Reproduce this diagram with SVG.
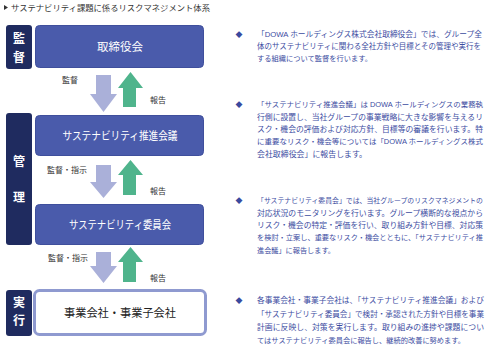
<svg xmlns="http://www.w3.org/2000/svg" width="491" height="353" viewBox="0 0 491 353">
<style>
.t{font-family:"Liberation Sans","Noto Sans CJK JP",sans-serif}
.side{fill:#1f2b5f}
.sidet{fill:#fff;font-size:12px;font-weight:bold;text-anchor:middle}
.box{fill:#4a5bab;stroke:#3f4f9c;stroke-width:1}
.boxt{fill:#fff;font-size:11.5px;text-anchor:middle}
.down{fill:#aab0d9}
.up{fill:#4fb48c}
.lbl{fill:#333;font-size:8px}
.p{fill:#3c4c9f}
.b{fill:#3a4a9e}
</style>
<rect width="491" height="353" fill="#fff"/>
<g id="title">
<polygon points="4,5 4,10 8,7.5" fill="#333"/>
<text class="t" x="11" y="10.5" font-size="8.2" fill="#333" textLength="199" lengthAdjust="spacingAndGlyphs">サステナビリティ課題に係るリスクマネジメント体系</text>
</g>
<g id="side-kantoku"><rect class="side" x="6" y="25" width="26" height="44" rx="3"/><text class="t sidet" x="19" y="43">監</text><text class="t sidet" x="19" y="62">督</text></g>
<g id="side-kanri"><rect class="side" x="6" y="113" width="26" height="132" rx="3"/><text class="t sidet" x="19" y="166">管</text><text class="t sidet" x="19" y="202">理</text></g>
<g id="side-jikko"><rect class="side" x="6" y="290" width="26" height="46" rx="3"/><text class="t sidet" x="19" y="307">実</text><text class="t sidet" x="19" y="325">行</text></g>
<g id="node-torishimariyakukai"><rect class="box" x="35.5" y="25.5" width="168" height="42" rx="4"/><text class="t boxt" x="120" y="51">取締役会</text></g>
<g id="node-suishin"><rect class="box" x="35.5" y="115.5" width="168" height="40" rx="4"/><text class="t boxt" x="120" y="140" textLength="115" lengthAdjust="spacingAndGlyphs">サステナビリティ推進会議</text></g>
<g id="node-iinkai"><rect class="box" x="35.5" y="204.5" width="168" height="40" rx="4"/><text class="t boxt" x="120" y="229" textLength="102" lengthAdjust="spacingAndGlyphs">サステナビリティ委員会</text></g>
<g id="node-jigyo"><rect x="34.5" y="290.5" width="171" height="44" rx="5" fill="#fff" stroke="#8f9ad0" stroke-width="3"/><text class="t" x="120" y="317" font-size="11.5" fill="#222" text-anchor="middle" textLength="112" lengthAdjust="spacingAndGlyphs">事業会社・事業子会社</text></g>
<g id="connectors">
<polygon class="down" points="96,75 111,75 111,94 117,94 103.5,112 90,94 96,94"/>
<polygon class="up" points="130.5,72 143,88 136,88 136,107 123,107 123,88 118,88"/>
<text class="t lbl" x="62" y="83">監督</text>
<text class="t lbl" x="150" y="103">報告</text>
<polygon class="down" points="96,165 111,165 111,182 117,182 103.5,198 90,182 96,182"/>
<polygon class="up" points="130.5,160 143,175 136,175 136,195 123,195 123,175 118,175"/>
<text class="t lbl" x="47" y="173">監督・指示</text>
<text class="t lbl" x="150" y="194">報告</text>
<polygon class="down" points="96,252 111,252 111,266 117,266 103.5,283 90,266 96,266"/>
<polygon class="up" points="130.5,247 143,262 136,262 136,282 123,282 123,262 118,262"/>
<text class="t lbl" x="48" y="261">監督・指示</text>
<text class="t lbl" x="150" y="281">報告</text>
</g>
<g id="desc-1">
<text class="t b" x="239" y="37" font-size="7" text-anchor="middle">◆</text>
<text class="t p" x="257" y="37" font-size="7.6" textLength="225" lengthAdjust="spacingAndGlyphs">「DOWA ホールディングス株式会社取締役会」では、グループ全</text>
<text class="t p" x="257" y="49" font-size="7.6" textLength="224" lengthAdjust="spacingAndGlyphs">体のサステナビリティに関わる全社方針や目標とその管理や実行を</text>
<text class="t p" x="257" y="60.5" font-size="7.2" textLength="115" lengthAdjust="spacingAndGlyphs">する組織について監督を行います。</text>
</g>
<g id="desc-2">
<text class="t b" x="239" y="107" font-size="7" text-anchor="middle">◆</text>
<text class="t p" x="257" y="107" font-size="7.3" textLength="226" lengthAdjust="spacingAndGlyphs">「サステナビリティ推進会議」は DOWA ホールディングスの業務執</text>
<text class="t p" x="257" y="120" font-size="7.6" textLength="226" lengthAdjust="spacingAndGlyphs">行側に設置し、当社グループの事業戦略に大きな影響を与えるリ</text>
<text class="t p" x="257" y="131.5" font-size="7.6" textLength="226" lengthAdjust="spacingAndGlyphs">スク・機会の評価および対応方針、目標等の審議を行います。特</text>
<text class="t p" x="257" y="144" font-size="7.4" textLength="226" lengthAdjust="spacingAndGlyphs">に重要なリスク・機会等については「DOWA ホールディングス株式</text>
<text class="t p" x="257" y="157" font-size="7.6" textLength="110" lengthAdjust="spacingAndGlyphs">会社取締役会」に報告します。</text>
</g>
<g id="desc-3">
<text class="t b" x="239" y="203" font-size="7" text-anchor="middle">◆</text>
<text class="t p" x="257" y="203" font-size="6.8" textLength="226" lengthAdjust="spacingAndGlyphs">「サステナビリティ委員会」では、当社グループのリスクマネジメントの</text>
<text class="t p" x="257" y="215.5" font-size="7.6" textLength="226" lengthAdjust="spacingAndGlyphs">対応状況のモニタリングを行います。グループ横断的な視点から</text>
<text class="t p" x="257" y="227.5" font-size="7.6" textLength="226" lengthAdjust="spacingAndGlyphs">リスク・機会の特定・評価を行い、取り組み方針や目標、対応策</text>
<text class="t p" x="257" y="240" font-size="7" textLength="226" lengthAdjust="spacingAndGlyphs">を検討・立案し、重要なリスク・機会とともに、「サステナビリティ推</text>
<text class="t p" x="257" y="252.5" font-size="7.1" textLength="78" lengthAdjust="spacingAndGlyphs">進会議」に報告します。</text>
</g>
<g id="desc-4">
<text class="t b" x="239" y="303" font-size="7" text-anchor="middle">◆</text>
<text class="t p" x="257" y="303" font-size="7.5" textLength="227" lengthAdjust="spacingAndGlyphs">各事業会社・事業子会社は、「サステナビリティ推進会議」および</text>
<text class="t p" x="257" y="317" font-size="7.5" textLength="227" lengthAdjust="spacingAndGlyphs">「サステナビリティ委員会」で検討・承認された方針や目標を事業</text>
<text class="t p" x="257" y="330" font-size="7.6" textLength="227" lengthAdjust="spacingAndGlyphs">計画に反映し、対策を実行します。取り組みの進捗や課題につい</text>
<text class="t p" x="257" y="342.5" font-size="7.1" textLength="208" lengthAdjust="spacingAndGlyphs">てはサステナビリティ委員会に報告し、継続的改善に努めます。</text>
</g>
</svg>
